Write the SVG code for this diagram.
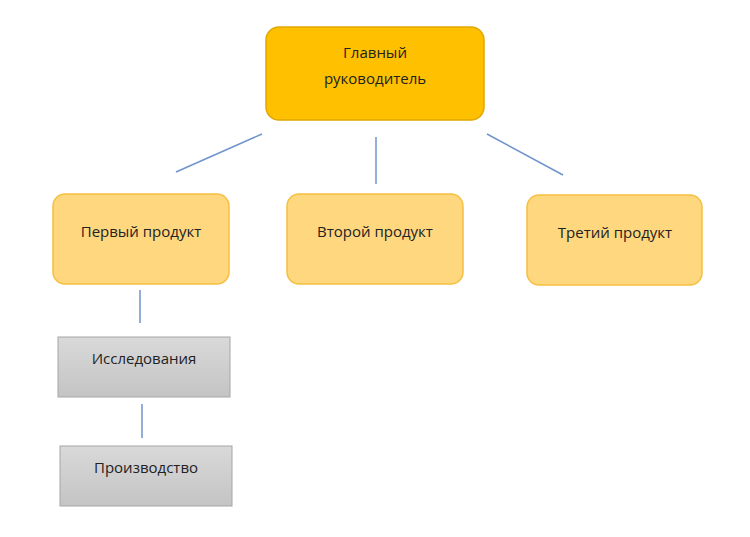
<svg xmlns="http://www.w3.org/2000/svg" width="750" height="537" viewBox="0 0 750 537">
<defs>
<linearGradient id="g" x1="0" y1="0" x2="0" y2="1"><stop offset="0" stop-color="#d9d9d9"/><stop offset="1" stop-color="#c4c4c4"/></linearGradient>
</defs>
<style>
.t{font-family:"Open Sans","Liberation Sans",sans-serif;font-size:15px;fill:#222;text-anchor:middle}
.p{fill:#ffd77f;stroke:#f5c040;stroke-width:1.5}
.gr{fill:url(#g);stroke:#a6a6a6;stroke-width:1}
.c line{stroke:#6f94cc;stroke-width:1.5}
</style>
<rect width="750" height="537" fill="#fff"/>
<g class="c">
<line x1="262" y1="134" x2="176" y2="172"/>
<line x1="376" y1="137" x2="376" y2="184"/>
<line x1="487" y1="134" x2="563" y2="175"/>
<line x1="140" y1="290" x2="140" y2="323"/>
<line x1="142" y1="404" x2="142" y2="438"/>
</g>
<g id="main"><rect x="266" y="27" width="218" height="93" rx="13" fill="#ffc000" stroke="#e0a800" stroke-width="1.5"/>
<text class="t" x="375" y="58">Главный</text><text class="t" x="375" y="84">руководитель</text></g>
<g id="p1"><rect class="p" x="53" y="194" width="176" height="90" rx="12"/><text class="t" x="141" y="237">Первый продукт</text></g>
<g id="p2"><rect class="p" x="287" y="194" width="176" height="90" rx="12"/><text class="t" x="375" y="237">Второй продукт</text></g>
<g id="p3"><rect class="p" x="527" y="195" width="175" height="90" rx="12"/><text class="t" x="615" y="238">Третий продукт</text></g>
<g id="r"><rect class="gr" x="58" y="337" width="172" height="60"/><text class="t" x="144" y="364">Исследования</text></g>
<g id="m"><rect class="gr" x="60" y="446" width="172" height="60"/><text class="t" x="146" y="473">Производство</text></g>
</svg>
